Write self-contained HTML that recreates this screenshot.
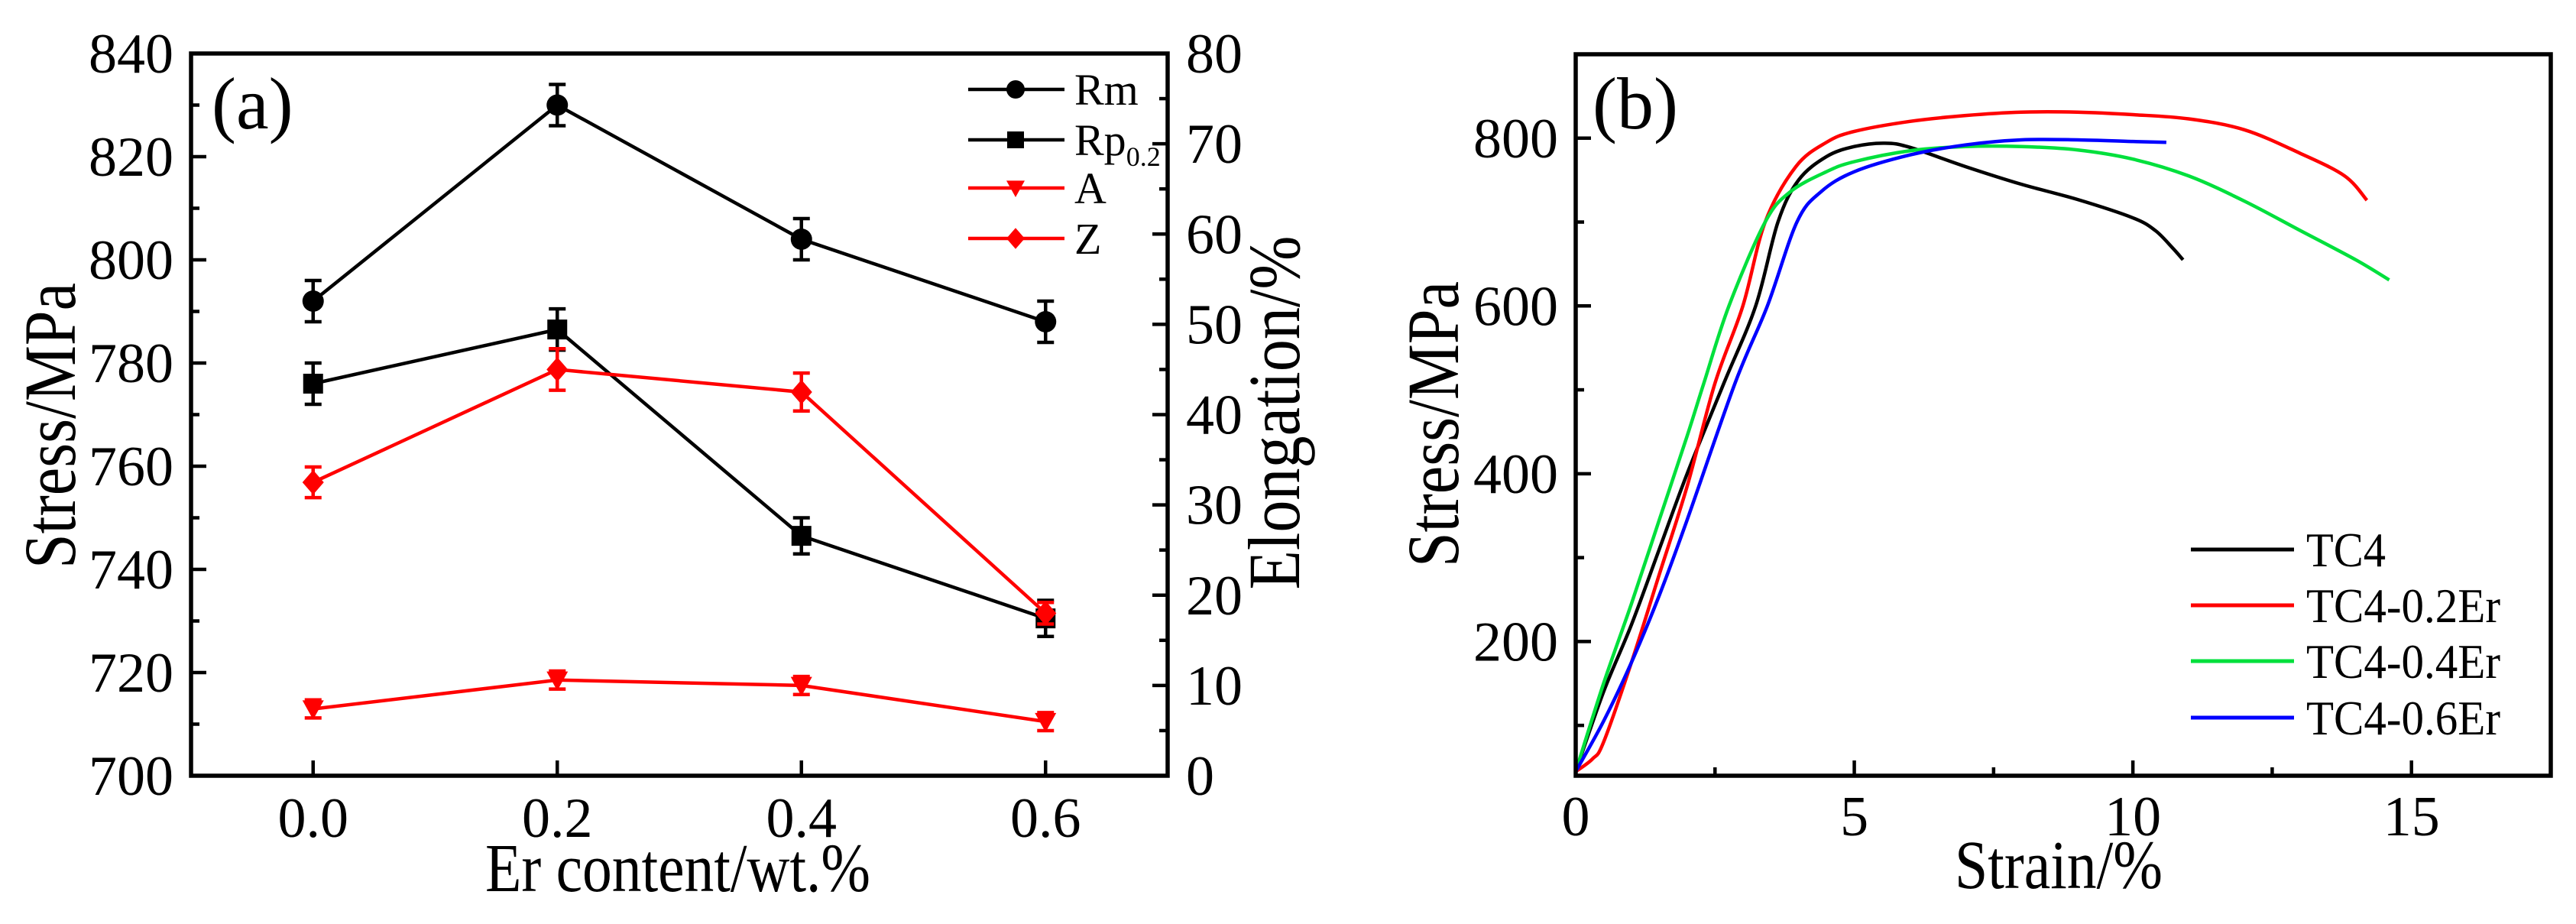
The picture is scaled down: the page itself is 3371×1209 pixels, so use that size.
<!DOCTYPE html>
<html><head><meta charset="utf-8"><style>
html,body{margin:0;padding:0;background:#fff;}
svg{display:block;font-family:"Liberation Serif",serif;}
</style></head><body>
<svg id="fig" width="3371" height="1209" viewBox="0 0 3371 1209" xmlns="http://www.w3.org/2000/svg">
<g id="pa"></g>
<g id="pb"></g>
</svg>
<script>
// ---- Panel (a) data ----
const erContent = [0.0, 0.2, 0.4, 0.6];
const rmValues = [792, 830, 804, 788];
const rmErr = [4, 4, 4, 4];
const rpValues = [776, 786.5, 746.5, 730.5];
const rpErr = [4, 4, 3.5, 3.5];
const aValues = [7.4, 10.6, 10.0, 6.0];
const aErr = [1, 1, 1, 1];
const zValues = [32.5, 45.0, 42.5, 18.0];
const zErr = [1.7, 2.3, 2.1, 1.2];
const aXTicks = [0.0, 0.2, 0.4, 0.6];
const aXTickLabels = ["0.0", "0.2", "0.4", "0.6"];
const aYTicks = [700, 720, 740, 760, 780, 800, 820, 840];
const aY2Ticks = [0, 10, 20, 30, 40, 50, 60, 70, 80];

// ---- Panel (b) data ----
const tc4Strain = [0,0.5,1,1.5,2,2.66,3.23,3.63,4,4.5,5,5.55,6,7,8,9,10,10.4,10.7,10.9];
const tc4Stress = [45,140,220,310,400,508,600,700,750,778,790,794,789,766,745,727,705,690,670,655];
const er02Strain = [0,0.3,0.5,1,1.5,2,2.5,3,3.4,3.95,4.5,5,6,7,8,9,10,11,12,13,13.8,14.2];
const er02Stress = [45,60,80,175,280,385,508,600,700,766,795,808,820,827,831,831,828,823,810,782,755,726];
const er04Strain = [0,0.5,1,1.5,2,2.3,2.75,3.4,3.85,4.5,5,6,7,8,9,10,11,12,13,14,14.6];
const er04Stress = [45,150,245,345,445,508,600,700,736,760,772,785,790,790,786,775,755,725,690,655,631];
const er06Strain = [0,0.5,1,1.5,2,2.86,3.44,3.97,4.4,5,6,7,8,9,10,10.6];
const er06Stress = [45,105,175,255,345,508,600,700,736,760,780,792,798,798,796,795];
const bXTicks = [0, 5, 10, 15];
const bYTicks = [200, 400, 600, 800];

const NS = "http://www.w3.org/2000/svg";
function mk(parent, tag, attrs, text) {
  const e = document.createElementNS(NS, tag);
  for (const k in attrs) e.setAttribute(k, attrs[k]);
  if (text !== undefined) e.textContent = text;
  parent.appendChild(e);
  return e;
}
function smoothPath(pts) {
  let d = `M${pts[0][0]},${pts[0][1]}`;
  for (let i = 0; i < pts.length - 1; i++) {
    const p0 = pts[Math.max(0, i-1)], p1 = pts[i], p2 = pts[i+1], p3 = pts[Math.min(pts.length-1, i+2)];
    const c1x = p1[0] + (p2[0]-p0[0])/6, c1y = p1[1] + (p2[1]-p0[1])/6;
    const c2x = p2[0] - (p3[0]-p1[0])/6, c2y = p2[1] - (p3[1]-p1[1])/6;
    d += `C${c1x},${c1y} ${c2x},${c2y} ${p2[0]},${p2[1]}`;
  }
  return d;
}

// ===== Panel a =====
const pa = document.getElementById('pa');
const A = {l:250, r:1528, t:70, b:1015};
const ax = v => A.l + (v - (-0.1)) / 0.8 * (A.r - A.l);
const ay = v => A.b - (v - 700) / 140 * (A.b - A.t);
const ay2 = v => A.b - v / 80 * (A.b - A.t);

for (let v = 700; v <= 840; v += 10) {
  const major = v % 20 === 0;
  const t = mk(pa, 'line', {x1:A.l, x2:A.l + (major?20:11), y1:ay(v), y2:ay(v), stroke:'#000','stroke-width':4.5});
  
  
}
aYTicks.forEach(v => {
  const t = mk(pa, 'text', {x:227, y:ay(v)+25, 'text-anchor':'end', 'font-size':74}, String(v));
  
  
});
for (let v = 0; v <= 80; v += 5) {
  const major = v % 10 === 0;
  const t = mk(pa, 'line', {x1:A.r, x2:A.r - (major?20:11), y1:ay2(v), y2:ay2(v), stroke:'#000','stroke-width':4.5});
  
  
}
aY2Ticks.forEach(v => {
  const t = mk(pa, 'text', {x:1552, y:ay2(v)+25, 'text-anchor':'start', 'font-size':74}, String(v));
  
  
});
aXTicks.forEach((v, i) => {
  const t = mk(pa, 'line', {x1:ax(v), x2:ax(v), y1:A.b, y2:A.b-20, stroke:'#000','stroke-width':4.5});
  
  
  const l = mk(pa, 'text', {x:ax(v), y:1095, 'text-anchor':'middle', 'font-size':74}, aXTickLabels[i]);
  
  
});

function drawMarker(g, marker, x, y, color, r) {
  if (marker === 'circle') return mk(g, 'circle', {cx:x, cy:y, r:r, fill:color});
  if (marker === 'square') return mk(g, 'rect', {x:x-r+1, y:y-r+1, width:2*r-2, height:2*r-2, fill:color});
  if (marker === 'tri') return mk(g, 'polygon', {points:`${x-r},${y-r*0.8} ${x+r},${y-r*0.8} ${x},${y+r}`, fill:color});
  return mk(g, 'polygon', {points:`${x},${y-r*1.15} ${x+r},${y} ${x},${y+r*1.15} ${x-r},${y}`, fill:color});
}
function series(g, xs, ys, yf, err, color, marker, name) {
  const pts = xs.map((x, i) => ax(x) + ',' + yf(ys[i])).join(' ');
  const line = mk(g, 'polyline', {points:pts, fill:'none', stroke:color, 'stroke-width':4.5});
  
  
  xs.forEach((x, i) => {
    const cx = ax(x), y1 = yf(ys[i] + err[i]), y2 = yf(ys[i] - err[i]);
    const eb = mk(g, 'path', {d:`M${cx},${y1}V${y2}M${cx-11},${y1}H${cx+11}M${cx-11},${y2}H${cx+11}`, stroke:color, 'stroke-width':4.5, fill:'none'});
    
    
    const m = drawMarker(g, marker, cx, yf(ys[i]), color, 14);
    
    
  });
}
series(pa, erContent, rmValues, ay, rmErr, '#000', 'circle', 'rm');
series(pa, erContent, rpValues, ay, rpErr, '#000', 'square', 'rp02');
series(pa, erContent, zValues, ay2, zErr, '#ff0000', 'diamond', 'z');
series(pa, erContent, aValues, ay2, aErr, '#ff0000', 'tri', 'a');

const fa = mk(pa, 'rect', {x:A.l, y:A.t, width:A.r-A.l, height:A.b-A.t, fill:'none', stroke:'#000', 'stroke-width':5.5});



const legA = mk(pa, 'g', {});


const legItems = [['Rm','#000','circle',117],['Rp','#000','square',183],['A','#ff0000','tri',246],['Z','#ff0000','diamond',312]];
legItems.forEach(it => {
  const e = mk(legA, 'g', {});
  
  
  mk(e, 'line', {x1:1267, x2:1393, y1:it[3], y2:it[3], stroke:it[1], 'stroke-width':4.5});
  drawMarker(e, it[2], 1329, it[3], it[1], 12);
  const t = mk(e, 'text', {x:1406, y:it[3]+20, 'font-size':58}, it[0]);
  if (it[0] === 'Rp') { mk(t, 'tspan', {'font-size':36, dy:14}, '0.2'); }
});

let t;
t = mk(pa, 'text', {x:277, y:168, 'font-size':96}, '(a)');
 
t = mk(pa, 'text', {x:0, y:0, 'font-size':96, 'text-anchor':'middle', transform:'translate(98,557) rotate(-90)', textLength:374, lengthAdjust:'spacingAndGlyphs'}, 'Stress/MPa');
 
t = mk(pa, 'text', {x:0, y:0, 'font-size':96, 'text-anchor':'middle', transform:'translate(1700,540) rotate(-90)', textLength:463, lengthAdjust:'spacingAndGlyphs'}, 'Elongation/%');
 
t = mk(pa, 'text', {x:887, y:1166, 'font-size':90, 'text-anchor':'middle', textLength:504, lengthAdjust:'spacingAndGlyphs'}, 'Er content/wt.%');
 

// ===== Panel b =====
const pb = document.getElementById('pb');
const B = {l:2062, r:3338, t:71, b:1015};
const bx = v => B.l + v / 17.5 * (B.r - B.l);
const by = v => B.b - (v - 40) / 860 * (B.b - B.t);

for (let v = 100; v <= 800; v += 100) {
  const major = v % 200 === 0;
  const k = mk(pb, 'line', {x1:B.l, x2:B.l + (major?20:11), y1:by(v), y2:by(v), stroke:'#000','stroke-width':4.5});
  
  
}
bYTicks.forEach(v => {
  const k = mk(pb, 'text', {x:2039, y:by(v)+25, 'text-anchor':'end', 'font-size':74}, String(v));
  
  
});
for (let v = 0; v <= 17.5; v += 2.5) {
  const major = v % 5 === 0;
  const k = mk(pb, 'line', {x1:bx(v), x2:bx(v), y1:B.b, y2:B.b-(major?20:11), stroke:'#000','stroke-width':4.5});
  
  
}
bXTicks.forEach(v => {
  const k = mk(pb, 'text', {x:bx(v), y:1093, 'text-anchor':'middle', 'font-size':74}, String(v));
  
  
});

function curve(xs, ys, color, name) {
  const pts = xs.map((x, i) => [bx(x), by(ys[i])]);
  const c = mk(pb, 'path', {d:smoothPath(pts), fill:'none', stroke:color, 'stroke-width':4.5, 'stroke-linejoin':'round'});
  
  
}
curve(tc4Strain, tc4Stress, '#000', 'curve-tc4');
curve(er02Strain, er02Stress, '#ff0000', 'curve-tc4-0.2er');
curve(er04Strain, er04Stress, '#00e03c', 'curve-tc4-0.4er');
curve(er06Strain, er06Stress, '#0000ff', 'curve-tc4-0.6er');

const fb = mk(pb, 'rect', {x:B.l, y:B.t, width:B.r-B.l, height:B.b-B.t, fill:'none', stroke:'#000', 'stroke-width':5.5});



const legB = mk(pb, 'g', {});


[['TC4','#000',719],['TC4-0.2Er','#ff0000',792],['TC4-0.4Er','#00e03c',865],['TC4-0.6Er','#0000ff',939]].forEach(it => {
  const e = mk(legB, 'g', {});
  
  
  mk(e, 'line', {x1:2867, x2:3002, y1:it[2], y2:it[2], stroke:it[1], 'stroke-width':5});
  mk(e, 'text', {x:3018, y:it[2]+22, 'font-size':64, textLength:(it[0]==='TC4'?104:254), lengthAdjust:'spacingAndGlyphs'}, it[0]);
});

t = mk(pb, 'text', {x:2084, y:168, 'font-size':96}, '(b)');
 
t = mk(pb, 'text', {x:0, y:0, 'font-size':96, 'text-anchor':'middle', transform:'translate(1908,555) rotate(-90)', textLength:374, lengthAdjust:'spacingAndGlyphs'}, 'Stress/MPa');
 
t = mk(pb, 'text', {x:2694, y:1162, 'font-size':90, 'text-anchor':'middle', textLength:272, lengthAdjust:'spacingAndGlyphs'}, 'Strain/%');
 
</script>
</body></html>
